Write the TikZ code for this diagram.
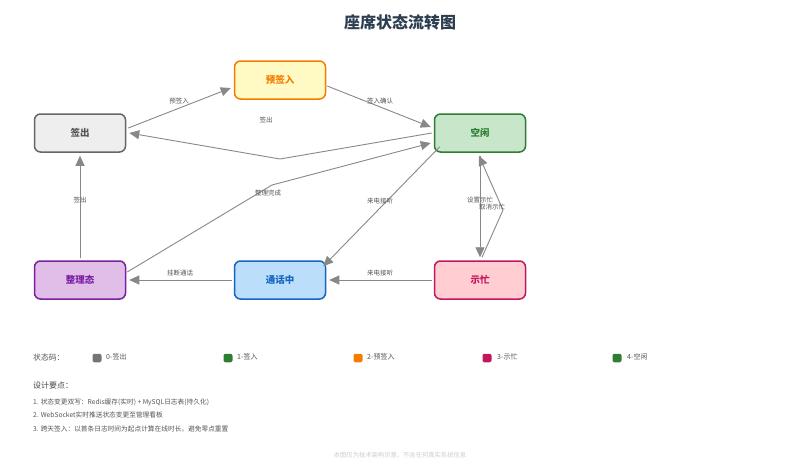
\documentclass[tikz,border=0pt]{standalone}
\usepackage{fontspec}
\setmainfont{Noto Sans CJK SC}
\usetikzlibrary{arrows.meta,calc}
\definecolor{edgegray}{HTML}{888888}
\definecolor{titlecol}{HTML}{2C3E50}
\definecolor{txtgray}{HTML}{555555}
\definecolor{yqfill}{HTML}{FFF9C4}
\definecolor{yqline}{HTML}{F57C00}
\definecolor{qcfill}{HTML}{EEEEEE}
\definecolor{qcline}{HTML}{666666}
\definecolor{qctext}{HTML}{555555}
\definecolor{kxfill}{HTML}{C8E6C9}
\definecolor{kxline}{HTML}{2E7D32}
\definecolor{zlfill}{HTML}{E1BEE7}
\definecolor{zlline}{HTML}{7B1FA2}
\definecolor{thfill}{HTML}{BBDEFB}
\definecolor{thline}{HTML}{1565C0}
\definecolor{smfill}{HTML}{FFCDD2}
\definecolor{smline}{HTML}{C2185B}
\definecolor{sw0}{HTML}{757575}
\definecolor{notehead}{HTML}{444444}
\definecolor{footcol}{HTML}{CCCCCC}
\begin{document}
\begin{tikzpicture}[x=1pt,y=-1pt,
  state/.style={draw, rounded corners=6pt, line width=1.5pt, minimum width=91pt, minimum height=38pt, inner sep=0pt, font=\fontsize{9.5}{10}\selectfont\bfseries},
  conn/.style={draw=edgegray, line width=0.9pt, -{Triangle[length=10pt,width=9pt]}},
  elabel/.style={text=txtgray, font=\fontsize{6.5}{7}\selectfont, inner sep=0pt},
  legtext/.style={text=txtgray, font=\fontsize{7}{8}\selectfont, anchor=west, inner sep=0pt},
  notetext/.style={text=txtgray, font=\fontsize{6.7}{8}\selectfont, anchor=west, inner sep=0pt},
  swatch/.style={rounded corners=2pt, minimum width=9pt, minimum height=8.5pt, inner sep=0pt}]
\useasboundingbox[fill=white] (0,0) rectangle (800,467);

\node[text=titlecol, font=\fontsize{16}{17}\selectfont\bfseries] (title) at (400,22) {座席状态流转图};

\node[state, fill=yqfill, draw=yqline, text=yqline] (yq) at (280,80) {预签入};
\node[state, fill=qcfill, draw=qcline, text=qctext] (qc) at (80,133) {签出};
\node[state, fill=kxfill, draw=kxline, text=kxline] (kx) at (480,133) {空闲};
\node[state, fill=zlfill, draw=zlline, text=zlline] (zl) at (80,280) {整理态};
\node[state, fill=thfill, draw=thline, text=thline] (th) at (280,280) {通话中};
\node[state, fill=smfill, draw=smline, text=smline] (sm) at (480,280) {示忙};

\coordinate (bendA) at (280,159);
\coordinate (bendB) at (272,185);
\coordinate (bendC) at (503,210);

% edges
\draw[conn] ([shift={(2pt,5pt)}]qc.east) -- ([shift={(-3pt,-8pt)}]yq.west);
\node[elabel] (l1) at (179,101) {预签入};

\draw[conn] ([shift={(1pt,-6pt)}]yq.east) -- ([shift={(-3pt,6pt)}]kx.west);
\node[elabel] (l2) at (380,101) {签入确认};

\draw[conn] ([xshift=-2pt]kx.west) -- (bendA) -- ([xshift=3pt]qc.east);
\node[elabel] (l3) at (266,120) {签出};

\draw[conn] ([shift={(1pt,8pt)}]zl.east) -- (bendB) -- ([shift={(-3pt,-10pt)}]kx.west);
\node[elabel] (l4) at (268,193) {整理完成};

\draw[conn] ([shift={(6pt,6pt)}]kx.south west) -- ([shift={(-3pt,-6pt)}]th.north east);
\node[elabel] (l5) at (380,201) {来电接听};

\draw[conn] ([xshift=-2pt]sm.west) -- ([xshift=3pt]th.east);
\node[elabel] (l6) at (380,273) {来电接听};

\draw[conn] ([xshift=-2pt]th.west) -- ([xshift=3pt]zl.east);
\node[elabel] (l7) at (180,273) {挂断通话};

\draw[conn] ([yshift=2pt]zl.north) -- ([yshift=-3pt]qc.south);
\node[elabel] (l8) at (80,200) {签出};

\draw[conn] ([yshift=-3pt]kx.south) -- ([yshift=3pt]sm.north);
\draw[conn] ([shift={(2pt,3pt)}]sm.north) -- (bendC) -- ([shift={(-1pt,-3pt)}]kx.south);
\node[elabel] (l9) at (480,200) {设置示忙};
\node[elabel] (l10) at (492,207) {取消示忙};

% legend
\node[anchor=west, text=txtgray, font=\fontsize{7.8}{8}\selectfont, inner sep=0pt] (leg) at (33,358) {状态码：};
\node[swatch, fill=sw0] (s0) at (97,358) {};
\node[legtext] (t0) at (106,357) {0-签出};
\node[swatch, fill=kxline] (s1) at (228,358) {};
\node[legtext] (t1) at (237,357) {1-签入};
\node[swatch, fill=yqline] (s2) at (358,358) {};
\node[legtext] (t2) at (367,357) {2-预签入};
\node[swatch, fill=smline] (s3) at (487,358) {};
\node[legtext] (t3) at (497,357) {3-示忙};
\node[swatch, fill=kxline] (s4) at (617,358) {};
\node[legtext] (t4) at (627,357) {4-空闲};

% design notes
\node[anchor=west, text=notehead, font=\fontsize{8}{9}\selectfont, inner sep=0pt] (dh) at (33,385) {设计要点：};
\node[notetext] (d1) at (33,402) {1. 状态变更双写：Redis缓存(实时) + MySQL日志表(持久化)};
\node[notetext] (d2) at (33,415) {2. WebSocket实时推送状态变更至管理看板};
\node[notetext] (d3) at (33,429) {3. 跨天签入：以首条日志时间为起点计算在线时长，避免零点重置};

\node[text=footcol, font=\fontsize{6.3}{7}\selectfont, inner sep=0pt] (foot) at (400,455) {本图仅为技术架构示意，不含任何真实系统信息};
\end{tikzpicture}
\end{document}
